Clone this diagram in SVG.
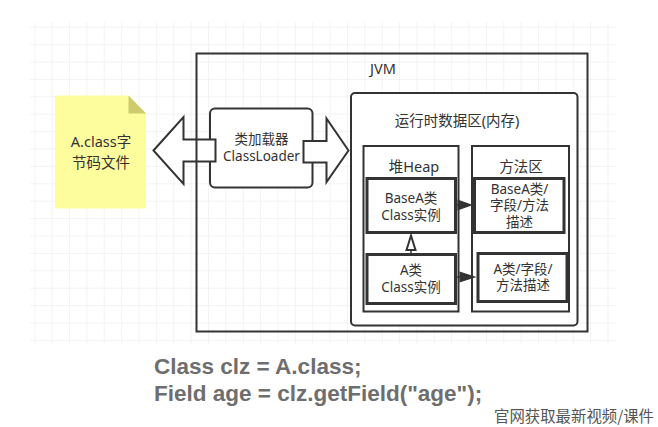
<svg xmlns="http://www.w3.org/2000/svg" width="658" height="427" viewBox="0 0 658 427">
<style>
  .t { font-family: "Noto Sans", "Noto Sans CJK SC", sans-serif; fill: #333; text-anchor: middle; }
  .box { fill: #fff; stroke: #333; stroke-width: 2; }
  .inner { fill: #fff; stroke: #333; stroke-width: 3; }
  .big { fill: #fff; stroke: #333; stroke-width: 2; stroke-linejoin: miter; }
  .ln { stroke: #333; stroke-width: 1.5; fill: none; }
  .code { font-family: "Liberation Sans", Arial, sans-serif; font-weight: bold; font-size: 22.5px; fill: #6e6e6e; }
  .wm { font-family: "Noto Sans CJK SC", sans-serif; font-size: 15.5px; fill: #555; }
</style>
<defs>
  <pattern id="grid" patternUnits="userSpaceOnUse" x="34.3" y="26.7" width="17.37" height="17.4">
    <path d="M0 0 V17.4 M0 0 H17.37" fill="none" stroke="#e8e8e8" stroke-width="1"/>
  </pattern>
</defs>
<rect width="658" height="427" fill="#fff"/>
<rect x="30" y="22" width="587" height="323" fill="url(#grid)"/>

<g id="file">
  <path d="M55 95.5 H128.5 L146 113.5 V208.5 H55 Z" fill="#fdfd9e"/>
  <path d="M128.5 95.5 L146 113.5 H128.5 Z" fill="#cccc6c"/>
  <text class="t" x="101" y="147" font-size="14.5">A.class字</text>
  <text class="t" x="101" y="167.5" font-size="14.5">节码文件</text>
</g>

<g id="classloader">
  <rect class="box" x="210" y="108.5" width="102.5" height="79" rx="5"/>
  <text class="t" x="261.5" y="144" font-size="13.5">类加载器</text>
  <text class="t" x="261.5" y="161" font-size="13.5">ClassLoader</text>
</g>

<g id="runtime">
  <rect class="box" x="351" y="93" width="226.5" height="232.5" rx="4"/>
  <text class="t" x="457" y="126" font-size="14.5">运行时数据区(内存)</text>
</g>

<g id="heap">
  <rect class="box" x="363.5" y="146" width="95" height="165.5"/>
  <text class="t" x="414" y="172" font-size="14.5">堆Heap</text>
</g>

<g id="method">
  <rect class="box" x="472" y="146" width="97" height="165.5"/>
  <text class="t" x="521" y="172" font-size="14.5">方法区</text>
</g>

<g id="baseA-instance">
  <rect class="inner" x="367" y="178.5" width="88.5" height="54"/>
  <text class="t" x="411" y="203" font-size="13.5">BaseA类</text>
  <text class="t" x="411" y="220" font-size="13.5">Class实例</text>
</g>

<g id="a-instance">
  <rect class="inner" x="367" y="254.5" width="88.5" height="49"/>
  <text class="t" x="411" y="275" font-size="13.5">A类</text>
  <text class="t" x="411" y="292" font-size="13.5">Class实例</text>
</g>

<g id="baseA-method">
  <rect class="inner" x="474.5" y="178.5" width="89.5" height="54"/>
  <text class="t" x="519.5" y="193.5" font-size="13.5">BaseA类/</text>
  <text class="t" x="519.5" y="210" font-size="13.5">字段/方法</text>
  <text class="t" x="519.5" y="227" font-size="13.5">描述</text>
</g>

<g id="a-method">
  <rect class="inner" x="478" y="253.5" width="89" height="48"/>
  <text class="t" x="523" y="273.5" font-size="13.5">A类/字段/</text>
  <text class="t" x="523" y="290" font-size="13.5">方法描述</text>
</g>

<g id="connectors">
  <path class="big" d="M153.5 150.5 L183.5 117 V139.5 H215.5 V161.5 H183.5 V184 Z"/>
  <path class="big" d="M348.5 150.5 L326.5 118.5 V141 H303.5 V162.5 H326.5 V182 Z"/>
  <line class="ln" x1="457" y1="205" x2="462" y2="205"/>
  <path d="M457.5 199.5 L473 205 L457.5 210.5 Z" fill="#333"/>
  <line class="ln" x1="457" y1="277" x2="462" y2="277"/>
  <path d="M459.5 271.5 L476.5 277 L459.5 282.5 Z" fill="#333"/>
  <line class="ln" x1="411" y1="253" x2="411" y2="250"/>
  <path d="M406.5 250 L411 235.5 L415.5 250 Z" fill="#fff" stroke="#333" stroke-width="2" stroke-linejoin="miter"/>
</g>

<g id="jvm">
  <rect x="196.5" y="53.5" width="391" height="278" fill="none" stroke="#333" stroke-width="2"/>
  <text class="t" x="383" y="73.5" font-size="14.5">JVM</text>
</g>

<text class="code" x="154" y="373.5">Class clz = A.class;</text>
<text class="code" x="154" y="401">Field age = clz.getField("age");</text>
<text class="wm" x="494" y="422" textLength="160" lengthAdjust="spacingAndGlyphs">官网获取最新视频/课件</text>
</svg>
